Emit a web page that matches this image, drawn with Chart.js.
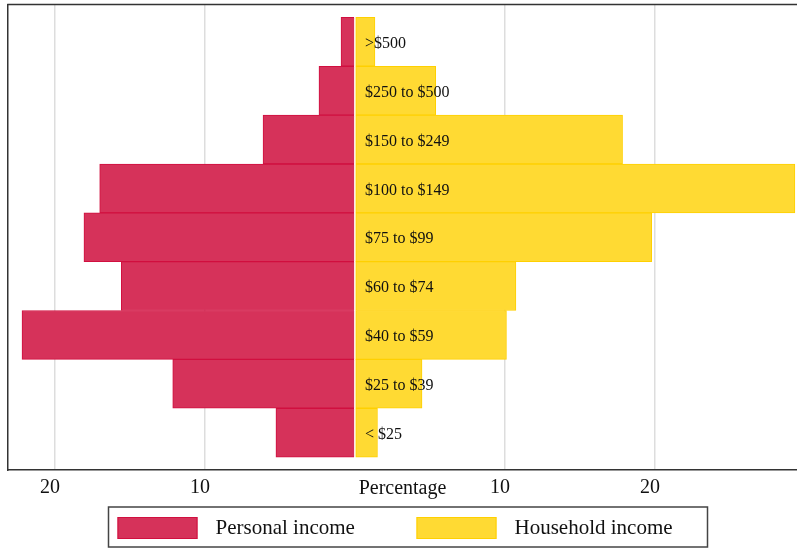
<!DOCTYPE html>
<html>
<head>
<meta charset="utf-8">
<script src="https://cdn.jsdelivr.net/npm/chart.js@4"></script>
<style>
  html, body { margin: 0; padding: 0; background: #fff; }
  #wrap { width: 797px; height: 548px; }
</style>
</head>
<body>
<div id="wrap"><canvas id="incomeChart"></canvas></div>
<script>
// income brackets, top to bottom
const categories = [">$500", "$250 to $500", "$150 to $249", "$100 to $149", "$75 to $99",
                    "$60 to $74", "$40 to $59", "$25 to $39", "< $25"];
const personalIncome = [0.93, 2.4, 6.13, 17.02, 18.07, 15.58, 22.2, 12.15, 5.27];
const householdIncome = [1.33, 5.38, 17.84, 29.33, 19.78, 10.73, 10.1, 4.47, 1.5];
const xTickValues = [-20, -10, 0, 10, 20];

const serif = "'Liberation Serif', 'Times New Roman', serif";
Chart.defaults.font.family = serif;
Chart.defaults.color = "#111";

// names written inside the bars, right of zero
const bracketLabels = {
  id: "bracketLabels",
  afterDatasetsDraw(chart) {
    const { ctx, scales: { x, y } } = chart;
    ctx.save();
    ctx.font = "16px " + serif;
    ctx.fillStyle = "#111";
    ctx.textBaseline = "middle";
    ctx.textAlign = "left";
    categories.forEach((c, i) => {
      ctx.fillText(c, x.getPixelForValue(0) + 10, y.getPixelForValue(i) + 2);
    });
    ctx.restore();
  }
};

// top edge of the plot frame + boxed legend underneath
const frameAndLegend = {
  id: "frameAndLegend",
  afterDraw(chart) {
    const { ctx, chartArea } = chart;
    ctx.save();
    ctx.strokeStyle = "#333";
    ctx.lineWidth = 1.5;
    ctx.beginPath();
    ctx.moveTo(chartArea.left - 0.75, chartArea.top);
    ctx.lineTo(chartArea.right, chartArea.top);
    ctx.stroke();

    const left = 108.5, top = 507, w = 599, h = 40;
    ctx.strokeStyle = "#444";
    ctx.strokeRect(left, top, w, h);
    ctx.font = "21px " + serif;
    ctx.textBaseline = "middle";
    ctx.textAlign = "left";
    const offsets = [9, 308];
    chart.data.datasets.forEach((ds, i) => {
      const sx = left + offsets[i];
      ctx.fillStyle = ds.backgroundColor;
      ctx.strokeStyle = ds.borderColor;
      ctx.lineWidth = 1;
      ctx.fillRect(sx, top + 10, 80, 22);
      ctx.strokeRect(sx + 0.5, top + 10.5, 79, 21);
      ctx.fillStyle = "#111";
      ctx.fillText(ds.label, sx + 98, top + 21);
    });
    ctx.restore();
  }
};

new Chart(document.getElementById("incomeChart"), {
  type: "bar",
  data: {
    datasets: [{
      label: "Personal income",
      data: personalIncome.map((v, i) => ({ x: -v, y: i })),
      backgroundColor: "#D6325A",
      borderColor: "#D10F3F",
      borderWidth: 1,
      borderSkipped: "start"
    }, {
      label: "Household income",
      data: householdIncome.map((v, i) => ({ x: v, y: i })),
      backgroundColor: "#FFDA33",
      borderColor: "#FFD000",
      borderWidth: 1,
      borderSkipped: false
    }]
  },
  options: {
    indexAxis: "y",
    responsive: true,
    maintainAspectRatio: false,
    animation: false,
    grouped: false,
    barPercentage: 1,
    categoryPercentage: 1,
    layout: { padding: { left: 8, top: 4.5, right: 0, bottom: 42 } },
    scales: {
      x: {
        type: "linear",
        min: -23.133,
        max: 29.47,
        afterBuildTicks: axis => { axis.ticks = xTickValues.map(v => ({ value: v })); },
        ticks: {
          padding: 6,
          labelOffset: -5,
          font: { size: 20 },
          color: "#111",
          callback: v => v === 0 ? "" : Math.abs(v)
        },
        grid: {
          drawTicks: false,
          lineWidth: 1.5,
          color: c => (c.tick && c.tick.value === 0) ? "rgba(0,0,0,0)" : "#dddddd"
        },
        border: { display: true, color: "#333", width: 1.5 },
        title: {
          display: true,
          text: "Percentage",
          font: { size: 20 },
          color: "#111",
          padding: { top: -29.5, bottom: 5.5 }
        }
      },
      y: {
        type: "linear",
        reverse: true,
        offset: false,
        min: -0.765,
        max: 8.765,
        afterBuildTicks: axis => { axis.ticks = categories.map((c, i) => ({ value: i })); },
        ticks: { display: false },
        grid: { display: false, drawTicks: false, offset: false },
        border: { display: true, color: "#333", width: 1.5 }
      }
    },
    plugins: {
      legend: { display: false },
      tooltip: { enabled: false }
    }
  },
  plugins: [bracketLabels, frameAndLegend]
});
</script>
</body>
</html>
